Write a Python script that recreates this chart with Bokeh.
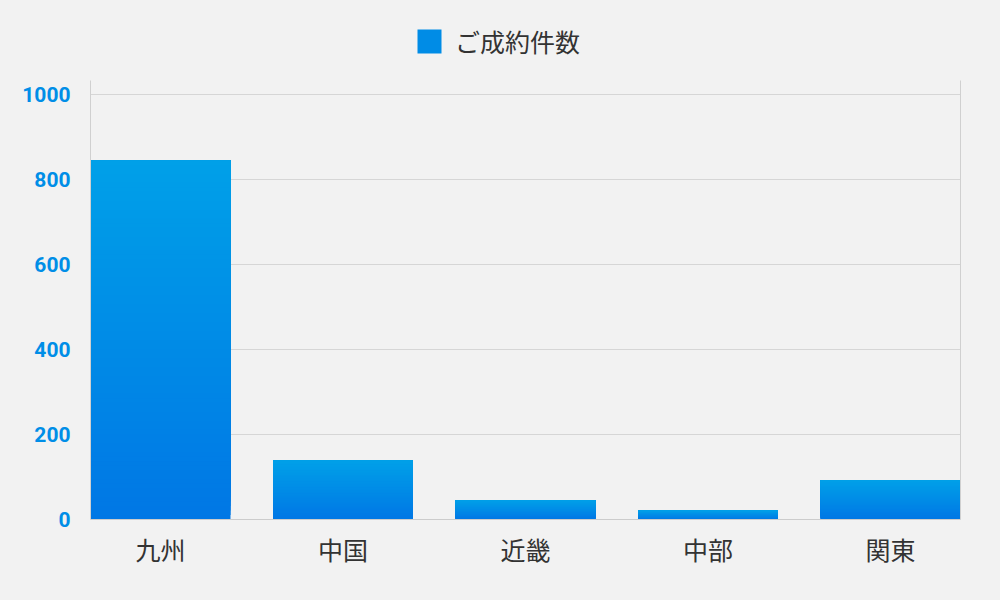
from bokeh.plotting import figure
from bokeh.layouts import column
from bokeh.models import (Range1d, FixedTicker, Legend, LegendItem,
                          LinearAxis, ColumnDataSource)
from bokeh.embed import file_html
from bokeh.resources import INLINE

# ---- data ----
regions = ["九州", "中国", "近畿", "中部", "関東"]
counts = [845, 139, 45, 21, 92]
series_name = "ご成約件数"
y_ticks = [0, 200, 400, 600, 800, 1000]

# ---- style helpers ----
TOP = (0, 160, 232)
BOTTOM = (0, 119, 229)
BG = "#f2f2f2"


def mix(f):
    return "#%02x%02x%02x" % tuple(round(b + (t - b) * f) for t, b in zip(TOP, BOTTOM))


BAR_W = 0.767
N = 80
NAN = float("nan")

# ---- legend strip (own small figure above the chart) ----
lf = figure(width=1000, height=80, output_backend="svg", toolbar_location=None,
            x_range=Range1d(0, 1), y_range=Range1d(0, 1),
            x_axis_location=None, y_axis_location=None,
            min_border_left=90, min_border_right=40, min_border_top=0, min_border_bottom=0,
            background_fill_color=BG, border_fill_color=BG, outline_line_color=None)
lf.xgrid.visible = False
lf.ygrid.visible = False
# legend proxy (no visible geometry of its own)
proxy = lf.quad(left=[NAN], right=[NAN], top=[NAN], bottom=[NAN],
                fill_color=mix(0.5), line_color=None)
legend = Legend(items=[LegendItem(label=series_name, renderers=[proxy])],
                location=(324, 21), orientation="horizontal",
                glyph_width=30, glyph_height=30, label_standoff=11,
                padding=0, margin=0, border_line_color=None, background_fill_alpha=0,
                label_text_font="Noto Sans CJK JP", label_text_font_size="25px",
                label_text_color="#333333")
lf.add_layout(legend)

# ---- main chart ----
p = figure(width=1000, height=520, output_backend="svg", toolbar_location=None,
           x_range=Range1d(-BAR_W / 2, len(regions) - 1 + BAR_W / 2),
           y_range=Range1d(0, 1033),
           min_border_left=90, min_border_right=40, min_border_top=0, min_border_bottom=81,
           background_fill_color=BG, border_fill_color=BG,
           outline_line_color=None)

# gradient bars built from the data: overlapping strips, each starting higher
xs = list(range(len(regions)))
left, right, bottom, top, colors = [], [], [], [], []
for i in range(N):
    f0 = i / N
    c = mix((i + 0.5) / N)
    for x, v in zip(xs, counts):
        left.append(x - BAR_W / 2)
        right.append(x + BAR_W / 2)
        bottom.append(v * f0)
        top.append(v)
        colors.append(c)
src = ColumnDataSource(dict(left=left, right=right, bottom=bottom, top=top, color=colors))
p.quad(left="left", right="right", bottom="bottom", top="top", fill_color="color",
       line_color=None, source=src)

# axes
p.xaxis.ticker = FixedTicker(ticks=xs)
p.xaxis.major_label_overrides = {i: r for i, r in zip(xs, regions)}
p.xaxis.major_tick_line_color = None
p.xaxis.minor_tick_line_color = None
p.xaxis.axis_line_color = "#cccccc"
p.xaxis.major_label_text_font = "Noto Sans CJK JP"
p.xaxis.major_label_text_font_size = "25px"
p.xaxis.major_label_text_color = "#333333"
p.xaxis.major_label_standoff = 5

p.yaxis.ticker = FixedTicker(ticks=y_ticks)
p.yaxis.axis_line_color = "#d0d0d0"
p.yaxis.major_tick_line_color = None
p.yaxis.minor_tick_line_color = None
p.yaxis.major_tick_out = 0
p.yaxis.major_tick_in = 0
p.yaxis.major_label_standoff = 20
p.yaxis.major_label_text_font = "Roboto"
p.yaxis.major_label_text_font_style = "bold"
p.yaxis.major_label_text_font_size = "21px"
p.yaxis.major_label_text_color = mix(0.55)

right_ax = LinearAxis(ticker=FixedTicker(ticks=[]), axis_line_color="#d0d0d0",
                      major_tick_line_color=None, minor_tick_line_color=None,
                      major_label_text_font_size="0px")
p.add_layout(right_ax, "right")

p.xgrid.visible = False
p.ygrid.ticker = FixedTicker(ticks=y_ticks)
p.ygrid.grid_line_color = "#d6d6d6"

layout = column(lf, p, spacing=0, styles={"background-color": BG})

html = file_html(layout, INLINE)
html = html.replace("</head>", "<style>html, body { background-color: #f2f2f2; }</style></head>", 1)
open("out.html", "w").write(html)
